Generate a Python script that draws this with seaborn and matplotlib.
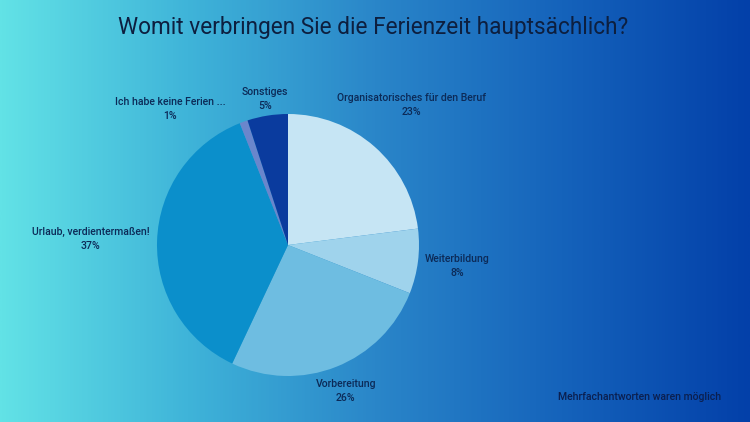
import numpy as np
import matplotlib
matplotlib.use("Agg")
import matplotlib.pyplot as plt
import seaborn as sns
from matplotlib.colors import LinearSegmentedColormap

sns.set_theme(style="white")
plt.rcParams['font.family'] = ['Roboto', 'DejaVu Sans']

# data
labels = ['Organisatorisches für den Beruf', 'Weiterbildung', 'Vorbereitung',
          'Urlaub, verdientermaßen!', 'Ich habe keine Ferien ...', 'Sonstiges']
shares = [23, 8, 26, 37, 1, 5]
colors = ['#c6e5f4', '#9fd3ec', '#6ebde1', '#0b8fcb', '#6a86cc', '#0a3b9e']

title = "Womit verbringen Sie die Ferienzeit hauptsächlich?"
note = "Mehrfachantworten waren möglich"

# label placement: distance from centre (in radii) and angle shift (deg)
lab_dist = [1.42, 1.30, 1.20, 1.51, 1.375, 1.13]
lab_shift = [0, 0, 0, 0, 21, 0]

fig = plt.figure(figsize=(7.5, 4.22), dpi=100)

# gradient background
bg = fig.add_axes([0, 0, 1, 1])
cmap = LinearSegmentedColormap.from_list(
    'bg', ['#62e2e6', '#3fb4d9', '#2a86c9', '#1563bb', '#0340a9'])
bg.imshow(np.linspace(0, 1, 512)[None, :], aspect='auto', cmap=cmap,
          extent=[0, 1, 0, 1])
bg.set_axis_off()

# pie
cx, cy, r = 288, 245, 131
W, H = 750, 422
ax = fig.add_axes([(cx - r) / W, (H - cy - r) / H, 2 * r / W, 2 * r / H])
wedges, _ = ax.pie(shares, colors=colors, startangle=90, counterclock=False,
                   wedgeprops=dict(linewidth=0))
ax.set_xlim(-1, 1)
ax.set_ylim(-1, 1)
ax.set_aspect('equal')
ax.set_axis_off()

txt_col = '#0c2a57'
for w, lab, s, d, sh in zip(wedges, labels, shares, lab_dist, lab_shift):
    mid = np.deg2rad((w.theta1 + w.theta2) / 2 + sh)
    ax.text(d * np.cos(mid), d * np.sin(mid), f"{lab}\n{s}%", ha='center',
            va='center', fontsize=7.6, color=txt_col, linespacing=1.5,
            fontweight='medium')

fig.text(0.497, 0.935, title, ha='center', va='center', fontsize=16.3,
         color='#0d1f3f')
fig.text(0.853, 0.059, note, ha='center', va='center', fontsize=7.6,
         color='#0b1f4f', fontweight='medium')

fig.savefig('out.png', dpi=100)
